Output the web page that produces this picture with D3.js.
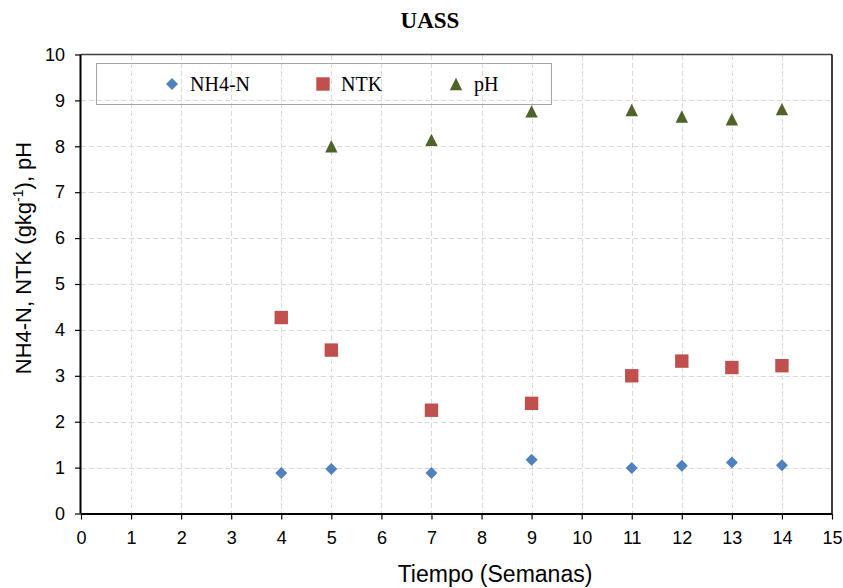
<!DOCTYPE html>
<html>
<head>
<meta charset="utf-8">
<script src="https://cdn.jsdelivr.net/npm/d3@7"></script>
<style>
  html, body { margin: 0; padding: 0; background: #fff; }
  svg { display: block; }
</style>
</head>
<body>
<svg id="chart" width="843" height="588"></svg>
<script>
// Sampling weeks and measured values
const weeks = [4, 5, 7, 9, 11, 12, 13, 14];
const nh4n  = [0.88, 0.97, 0.88, 1.17, 0.99, 1.04, 1.11, 1.05];
const ntk   = [4.27, 3.56, 2.25, 2.40, 3.00, 3.32, 3.18, 3.22];
const phWeeks = [5, 7, 9, 11, 12, 13, 14];
const ph    = [8.00, 8.14, 8.76, 8.79, 8.65, 8.59, 8.81];

const xTicks = d3.range(0, 16);
const yTicks = d3.range(0, 11);

const seriesNames = ["NH4-N", "NTK", "pH"];
const colors = { "NH4-N": "#4F81BD", "NTK": "#C0504D", "pH": "#4F6228" };

const svg = d3.select("#chart");
const plot = { left: 81, right: 832, top: 54.5, bottom: 513.5 };

const x = d3.scaleLinear().domain([0, 15]).range([plot.left, plot.right]);
const y = d3.scaleLinear().domain([0, 10]).range([plot.bottom, plot.top]);

// Marker shapes centred on the origin
const shapes = {
  "NH4-N": "M0,-6L6,0L0,6L-6,0Z",
  "NTK": "M-6.7,-6.7H6.7V6.7H-6.7Z",
  "pH": "M0,-6.2L6.2,6.2L-6.2,6.2Z"
};

// Dashed grid
const grid = svg.append("g").attr("stroke", "#d9d9d9").attr("stroke-width", 1)
  .attr("stroke-dasharray", "5,3").attr("shape-rendering", "crispEdges");
grid.selectAll("line.v").data(xTicks.slice(1, -1)).join("line").attr("class", "v")
  .attr("x1", d => Math.round(x(d)) + 0.5).attr("x2", d => Math.round(x(d)) + 0.5)
  .attr("y1", plot.top).attr("y2", plot.bottom);
grid.selectAll("line.h").data(yTicks.slice(1, -1)).join("line").attr("class", "h")
  .attr("y1", d => Math.round(y(d)) + 0.5).attr("y2", d => Math.round(y(d)) + 0.5)
  .attr("x1", plot.left).attr("x2", plot.right);

// Frame: top and right edges
svg.append("line").attr("x1", plot.left).attr("x2", plot.right)
  .attr("y1", plot.top).attr("y2", plot.top).attr("stroke", "#404040").attr("stroke-width", 1.5);
svg.append("line").attr("x1", plot.right).attr("x2", plot.right)
  .attr("y1", plot.top).attr("y2", plot.bottom).attr("stroke", "#000").attr("stroke-width", 1.5);

// Axes
const xAxis = svg.append("g").attr("transform", `translate(0,${plot.bottom})`)
  .call(d3.axisBottom(x).tickValues(xTicks).tickFormat(d3.format("d")).tickSize(6).tickPadding(12));
const yAxis = svg.append("g").attr("transform", `translate(${plot.left},0)`)
  .call(d3.axisLeft(y).tickValues(yTicks).tickFormat(d3.format("d")).tickSize(6).tickPadding(10));
[xAxis, yAxis].forEach(g => {
  g.select(".domain").attr("stroke", "#000").attr("stroke-width", 2);
  g.selectAll(".tick line").attr("stroke", "#000").attr("stroke-width", 1.2);
  g.selectAll(".tick text").attr("font-family", "Liberation Sans, Arial, sans-serif")
    .attr("font-size", 18).attr("fill", "#000");
});
xAxis.select(".domain").attr("d", `M${plot.left},0.5H${plot.right}`);
yAxis.select(".domain").attr("d", `M-0.5,${plot.bottom}V${plot.top}`);

// Data markers
function drawSeries(name, xs, ys) {
  svg.append("g").selectAll("path").data(xs.map((w, i) => [w, ys[i]])).join("path")
    .attr("d", shapes[name]).attr("fill", colors[name])
    .attr("transform", d => `translate(${x(d[0])},${y(d[1])})`);
}
drawSeries("NH4-N", weeks, nh4n);
drawSeries("NTK", weeks, ntk);
drawSeries("pH", phWeeks, ph);

// Legend
const legend = svg.append("g");
legend.append("rect").attr("x", 96.5).attr("y", 63.5).attr("width", 455).attr("height", 41)
  .attr("fill", "none").attr("stroke", "#a6a6a6").attr("stroke-width", 1);
const legendX = [172, 323, 456];
seriesNames.forEach((name, i) => {
  legend.append("path").attr("d", shapes[name]).attr("fill", colors[name])
    .attr("transform", `translate(${legendX[i]},84)`);
  legend.append("text").attr("x", legendX[i] + 18).attr("y", 91)
    .attr("font-family", "Liberation Serif, Times New Roman, serif").attr("font-size", 20)
    .attr("fill", "#000").text(name);
});

// Title
svg.append("text").attr("x", 430).attr("y", 28).attr("text-anchor", "middle")
  .attr("font-family", "Liberation Serif, Times New Roman, serif").attr("font-weight", "bold")
  .attr("font-size", 23).attr("fill", "#000").text("UASS");

// Axis titles
svg.append("text").attr("x", 495).attr("y", 582).attr("text-anchor", "middle")
  .attr("font-family", "Liberation Sans, Arial, sans-serif").attr("font-size", 23)
  .attr("fill", "#000").text("Tiempo (Semanas)");

const yTitle = svg.append("text").attr("transform", "translate(31,258) rotate(-90)")
  .attr("text-anchor", "middle").attr("font-family", "Liberation Sans, Arial, sans-serif")
  .attr("font-size", 22).attr("fill", "#000");
yTitle.append("tspan").text("NH4-N, NTK (gkg");
yTitle.append("tspan").attr("font-size", 14).attr("dy", -8).text("-1");
yTitle.append("tspan").attr("dy", 8).text("), pH");
</script>
</body>
</html>
